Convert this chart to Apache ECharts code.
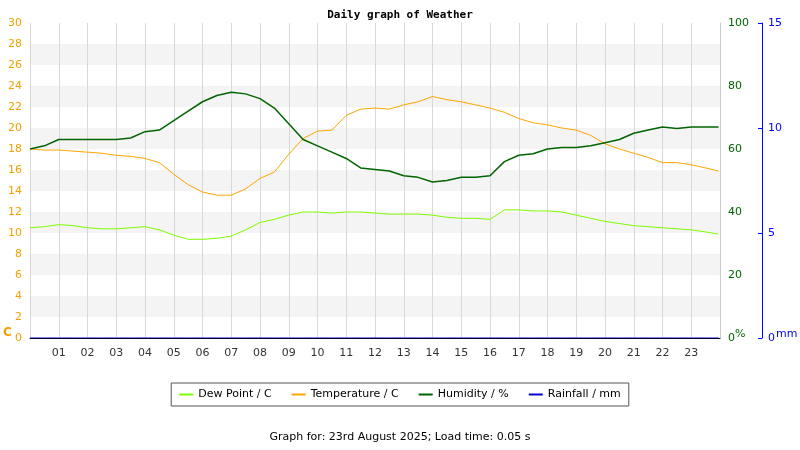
<!DOCTYPE html>
<html><head><meta charset="utf-8">
<script src="https://cdn.jsdelivr.net/npm/echarts@6/dist/echarts.min.js"></script>
<style>body{margin:0;background:#fff}#c{width:800px;height:450px}</style>
</head><body><div id="c"></div>
<script>
const hours = [0,0.5,1,1.5,2,2.5,3,3.5,4,4.5,5,5.5,6,6.5,7,7.5,8,8.5,9,9.5,10,10.5,11,11.5,12,12.5,13,13.5,14,14.5,15,15.5,16,16.5,17,17.5,18,18.5,19,19.5,20,20.5,21,21.5,22,22.5,23,23.5,23.95];
const temperature = [18.0,17.9,17.9,17.8,17.7,17.6,17.4,17.3,17.1,16.7,15.6,14.6,13.9,13.6,13.6,14.2,15.2,15.8,17.5,19.0,19.7,19.8,21.2,21.8,21.9,21.8,22.2,22.5,23.0,22.7,22.5,22.2,21.9,21.5,20.9,20.5,20.3,20.0,19.8,19.3,18.5,18.0,17.6,17.2,16.7,16.7,16.5,16.2,15.9];
const humidity = [60,61,63,63,63,63,63,63.5,65.5,66,69,72,75,77,78,77.5,76,73,68,63,61,59,57,54,53.5,53,51.5,51,49.5,50,51,51,51.5,56,58,58.5,60,60.5,60.5,61,62,63,65,66,67,66.5,67,67,67];
const dewPoint = [10.5,10.6,10.8,10.7,10.5,10.4,10.4,10.5,10.6,10.3,9.8,9.4,9.4,9.5,9.7,10.3,11.0,11.3,11.7,12.0,12.0,11.9,12.0,12.0,11.9,11.8,11.8,11.8,11.7,11.5,11.4,11.4,11.3,12.2,12.2,12.1,12.1,12.0,11.7,11.4,11.1,10.9,10.7,10.6,10.5,10.4,10.3,10.1,9.9];
const rainfall = hours.map(() => 0);
const pair = (vals) => hours.map((h, i) => [h, vals[i]]);
const font = "DejaVu Sans";

const chart = echarts.init(document.getElementById("c"));
chart.setOption({
  animation: false,
  textStyle: { fontFamily: font },
  title: { text: "Daily graph of Weather", left: "center", top: 5,
    textStyle: { fontFamily: "DejaVu Sans Mono", fontSize: 11, fontWeight: "bold", color: "#000" } },
  grid: { left: 30, right: 80, top: 23, bottom: 112 },
  legend: { bottom: 44, left: "center", itemWidth: 14, itemHeight: 2, borderColor: "#555", borderWidth: 1,
    padding: [6, 8], itemGap: 20, icon: "rect", textStyle: { fontSize: 11, color: "#000" },
    data: ["Dew Point / C", "Temperature / C", "Humidity / %", "Rainfall / mm"] },
  xAxis: { type: "value", min: 0, max: 24, interval: 1,
    axisLine: { lineStyle: { color: "#000" } }, axisTick: { show: false },
    splitLine: { show: true, lineStyle: { color: "#d8d8d8" } },
    axisLabel: { color: "#333", fontSize: 11, margin: 10,
      formatter: v => (v > 0 && v < 24) ? String(v).padStart(2, "0") : "" } },
  yAxis: [
    { type: "value", min: 0, max: 30, interval: 2, position: "left",
      axisLine: { show: false }, axisTick: { show: false },
      axisLabel: { color: "#f5a000", fontSize: 11 },
      splitLine: { show: false },
      splitArea: { show: true, areaStyle: { color: ["#ffffff", "#f4f4f4"] } } },
    { type: "value", min: 0, max: 100, interval: 20, position: "right",
      axisLine: { show: true, lineStyle: { color: "#ccc" } }, axisTick: { show: false },
      axisLabel: { color: "#006400", fontSize: 11, margin: 8 }, splitLine: { show: false } },
    { type: "value", min: 0, max: 15, interval: 5, position: "right", offset: 42,
      axisLine: { show: true, lineStyle: { color: "#0000ff" } },
      axisTick: { show: true, length: 4, inside: true, lineStyle: { color: "#0000ff" } },
      axisLabel: { color: "#0000ff", fontSize: 11, margin: 6 }, splitLine: { show: false } }
  ],
  graphic: [
    { type: "text", left: 3, top: 327, style: { text: "C", fill: "#f5a000", font: "bold 12px " + font } },
    { type: "text", left: 735, top: 329, style: { text: "%", fill: "#006400", font: "11px " + font } },
    { type: "text", left: 776, top: 329, style: { text: "mm", fill: "#0000ff", font: "11px " + font } },
    { type: "text", left: "center", top: 432, style: { text: "Graph for: 23rd August 2025; Load time: 0.05 s", fill: "#000", font: "11px " + font } }
  ],
  series: [
    { name: "Rainfall / mm", type: "line", yAxisIndex: 2, showSymbol: false, data: pair(rainfall), z: 1,
      lineStyle: { color: "#0000cd", width: 1 }, itemStyle: { color: "#0000cd" } },
    { name: "Dew Point / C", type: "line", yAxisIndex: 0, showSymbol: false, data: pair(dewPoint),
      lineStyle: { color: "#7cfc00", width: 1 }, itemStyle: { color: "#7cfc00" } },
    { name: "Temperature / C", type: "line", yAxisIndex: 0, showSymbol: false, data: pair(temperature),
      lineStyle: { color: "#ffa500", width: 1 }, itemStyle: { color: "#ffa500" } },
    { name: "Humidity / %", type: "line", yAxisIndex: 1, showSymbol: false, data: pair(humidity),
      lineStyle: { color: "#006400", width: 1.5 }, itemStyle: { color: "#006400" } }
  ]
});
</script></body></html>
